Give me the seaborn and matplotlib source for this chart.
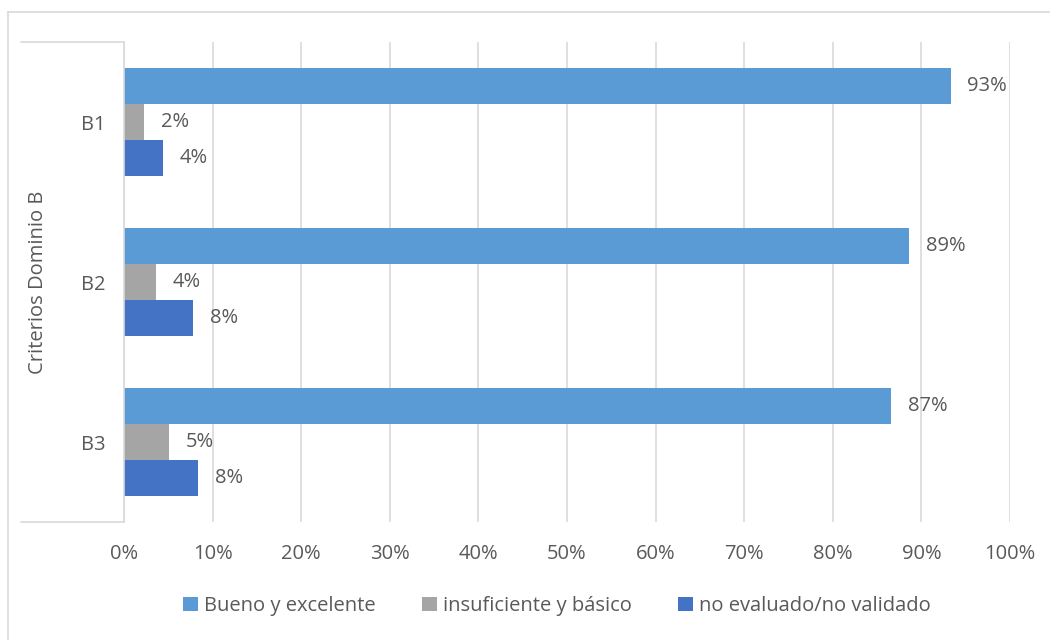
import numpy as np
import pandas as pd
import seaborn as sns
import matplotlib.pyplot as plt
from matplotlib.lines import Line2D

# data
criterios = ["B1", "B2", "B3"]
series = ["Bueno y excelente", "insuficiente y básico", "no evaluado/no validado"]
bueno = [0.933, 0.886, 0.866]
insuficiente = [0.023, 0.036, 0.051]
no_evaluado = [0.044, 0.078, 0.084]
colores = ["#5B9BD5", "#A5A5A5", "#4472C4"]

df = pd.DataFrame({
    "criterio": criterios * 3,
    "serie": [series[0]] * 3 + [series[1]] * 3 + [series[2]] * 3,
    "valor": bueno + insuficiente + no_evaluado,
})

sns.set_style("white")
plt.rcParams["font.family"] = ["Open Sans", "DejaVu Sans"]
txt = "#595959"
fs = 14.5

fig = plt.figure(figsize=(10.5, 6.4), dpi=100)
ax = fig.add_axes([124 / 1050, 1 - 522 / 640, 886 / 1050, 480 / 640])

sns.barplot(data=df, x="valor", y="criterio", hue="serie", order=criterios,
            hue_order=series, palette=colores, width=0.67, linewidth=0,
            saturation=1, errorbar=None, legend=True, ax=ax)

for cont in ax.containers:
    ax.bar_label(cont, labels=[f"{round(v.get_width() * 100)}%" for v in cont],
                 padding=12, fontsize=fs, color=txt)

ax.set_xlim(0, 1.0)
ax.set_ylim(2.5, -0.5)
ticks = np.arange(0, 1.01, 0.1)
ax.set_xticks(ticks)
ax.set_xticklabels([f"{int(round(t * 100))}%" for t in ticks])
ax.xaxis.grid(True, color="#D9D9D9", linewidth=1.2)
ax.set_axisbelow(True)
ax.tick_params(axis="x", length=0, pad=16, labelsize=fs, labelcolor=txt)
ax.tick_params(axis="y", length=0, pad=13, labelsize=fs, labelcolor=txt)
for s in ["top", "right", "bottom"]:
    ax.spines[s].set_visible(False)
ax.spines["left"].set_color("#D9D9D9")
ax.spines["left"].set_linewidth(1.2)
ax.set_xlabel("")
ax.set_ylabel("Criterios Dominio B", fontsize=fs, color=txt)
ax.yaxis.set_label_coords(38 / 1050, 1 - 282 / 640, transform=fig.transFigure)
ax.yaxis.label.set_va("center")

leg = ax.legend(loc="center", bbox_to_anchor=(557 / 1050, 1 - 606 / 640),
                bbox_transform=fig.transFigure, ncol=3, frameon=False,
                fontsize=fs, handlelength=0.75, handleheight=0.75,
                handletextpad=0.3, columnspacing=2.3)
for t in leg.get_texts():
    t.set_color(txt)

# category box lines and outer chart border
for yy in [1 - 42 / 640, 1 - 522 / 640]:
    fig.add_artist(Line2D([21 / 1050, 124 / 1050], [yy, yy], color="#D9D9D9", lw=1.2))
fig.add_artist(Line2D([8 / 1050, 8 / 1050], [0, 1 - 12 / 640], color="#D9D9D9", lw=1.2))
fig.add_artist(Line2D([8 / 1050, 1], [1 - 12 / 640, 1 - 12 / 640], color="#D9D9D9", lw=1.2))

fig.savefig("out.png", dpi=100)
